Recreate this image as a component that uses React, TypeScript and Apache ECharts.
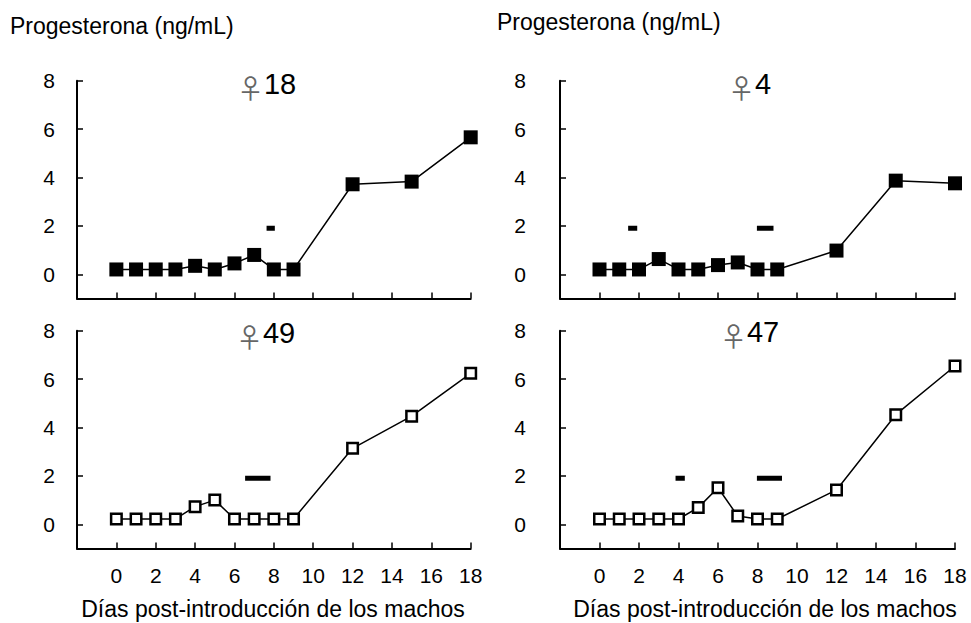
import React, { useEffect, useRef } from "react";
import * as echarts from "echarts";

const days = [0, 1, 2, 3, 4, 5, 6, 7, 8, 9, 12, 15, 18];
const f18 = [0.2, 0.2, 0.2, 0.2, 0.35, 0.2, 0.45, 0.8, 0.2, 0.2, 3.72, 3.83, 5.66];
const f4 = [0.2, 0.2, 0.2, 0.63, 0.2, 0.2, 0.38, 0.49, 0.2, 0.2, 0.98, 3.87, 3.76];
const f49 = [0.22, 0.22, 0.22, 0.22, 0.73, 1.0, 0.22, 0.22, 0.22, 0.22, 3.14, 4.47, 6.24];
const f47 = [0.22, 0.22, 0.22, 0.22, 0.22, 0.69, 1.51, 0.34, 0.22, 0.22, 1.42, 4.53, 6.54];

const estrus18 = [[7.63, 8.05]];
const estrus4 = [[1.45, 1.91], [7.97, 8.81]];
const estrus49 = [[6.54, 7.83]];
const estrus47 = [[3.85, 4.32], [7.97, 9.24]];
const estrusLevel = 1.9;

const xTicks = [0, 2, 4, 6, 8, 10, 12, 14, 16, 18];
const yTicks = [0, 2, 4, 6, 8];

const yName = "Progesterona (ng/mL)";
const xName = "Días post-introducción de los machos";
const titles = ["18", "4", "49", "47"];

const FONT = "'Liberation Sans', Arial, Helvetica, sans-serif";

export default function App() {
  const ref = useRef<HTMLDivElement>(null);
  useEffect(() => {
    if (!ref.current) return;
    const chart = echarts.init(ref.current, null, { renderer: "svg" });

    const grids = [
      { left: 77, top: 80.7, width: 393.7, height: 217.8 },
      { left: 560, top: 80.7, width: 395, height: 217.8 },
      { left: 77, top: 330.7, width: 393.7, height: 217.8 },
      { left: 560, top: 330.7, width: 395, height: 217.8 },
    ].map((g) => ({ ...g, outerBoundsMode: "none", containLabel: false }));

    const axisLine = { show: true, onZero: false, lineStyle: { color: "#000", width: 2 } };
    const axisTick = { show: true, inside: true, length: 6, lineStyle: { color: "#000", width: 1.5 } };

    const xAxes = [0, 1, 2, 3].map((i) => ({
      type: "value",
      gridIndex: i,
      min: -2,
      max: 18,
      interval: 2,
      axisLine,
      axisTick: { ...axisTick, customValues: xTicks },
      splitLine: { show: false },
      axisLabel: {
        show: i >= 2,
        customValues: xTicks,
        margin: 16,
        fontSize: 21,
        fontFamily: FONT,
        color: "#000",
      },
    }));

    const yAxes = [0, 1, 2, 3].map((i) => ({
      type: "value",
      gridIndex: i,
      min: -1,
      max: 8,
      axisLine,
      axisTick: { ...axisTick, customValues: yTicks },
      splitLine: { show: false },
      axisLabel: {
        customValues: yTicks,
        margin: i % 2 === 0 ? 22 : 34,
        fontSize: 21,
        fontFamily: FONT,
        color: "#000",
      },
    }));

    const panels = [
      { data: f18, estrus: estrus18, hollow: false },
      { data: f4, estrus: estrus4, hollow: false },
      { data: f49, estrus: estrus49, hollow: true },
      { data: f47, estrus: estrus47, hollow: true },
    ];

    const series: any[] = [];
    panels.forEach((p, i) => {
      series.push({
        type: "line",
        xAxisIndex: i,
        yAxisIndex: i,
        data: days.map((d, k) => [d, p.data[k]]),
        symbol: "rect",
        symbolSize: p.hollow ? 10.5 : 14,
        lineStyle: { color: "#000", width: 1.5 },
        itemStyle: p.hollow
          ? { color: "#fff", borderColor: "#000", borderWidth: 2.5 }
          : { color: "#000", borderWidth: 0 },
        z: 3,
      });
      p.estrus.forEach((e) => {
        series.push({
          type: "line",
          xAxisIndex: i,
          yAxisIndex: i,
          data: [
            [e[0], estrusLevel],
            [e[1], estrusLevel],
          ],
          symbol: "none",
          lineStyle: { color: "#000", width: 5, cap: "butt" },
          z: 2,
        });
      });
    });

    const titlePos = [
      [237, 84],
      [728, 84],
      [236, 333],
      [720, 332],
    ];

    const graphic: any[] = titles.map((t, i) => ({
      type: "text",
      x: titlePos[i][0],
      y: titlePos[i][1],
      style: {
        text: "{s|♀}{n|" + t + "}",
        verticalAlign: "middle",
        align: "left",
        rich: {
          s: { fontFamily: "'Noto Sans CJK JP', 'DejaVu Sans', sans-serif", fontSize: 27, fill: "#666", padding: [6, 0, 0, 0] },
          n: { fontFamily: FONT, fontSize: 29, fill: "#000" },
        },
      },
    }));

    graphic.push(
      {
        type: "text",
        x: 10,
        y: 26,
        style: { text: yName, fontFamily: FONT, fontSize: 23, fill: "#000", verticalAlign: "middle", align: "left" },
      },
      {
        type: "text",
        x: 497,
        y: 22,
        style: { text: yName, fontFamily: FONT, fontSize: 23, fill: "#000", verticalAlign: "middle", align: "left" },
      },
      {
        type: "text",
        x: 273,
        y: 609,
        style: { text: xName, fontFamily: FONT, fontSize: 23, fill: "#000", verticalAlign: "middle", align: "center" },
      },
      {
        type: "text",
        x: 765,
        y: 609,
        style: { text: xName, fontFamily: FONT, fontSize: 23, fill: "#000", verticalAlign: "middle", align: "center" },
      }
    );

    chart.setOption({
      animation: false,
      backgroundColor: "#fff",
      grid: grids,
      xAxis: xAxes,
      yAxis: yAxes,
      series,
      graphic,
    });
    return () => chart.dispose();
  }, []);

  return (
    <div
      ref={ref}
      style={{ position: "absolute", left: 0, top: 0, width: 971, height: 623 }}
    />
  );
}
